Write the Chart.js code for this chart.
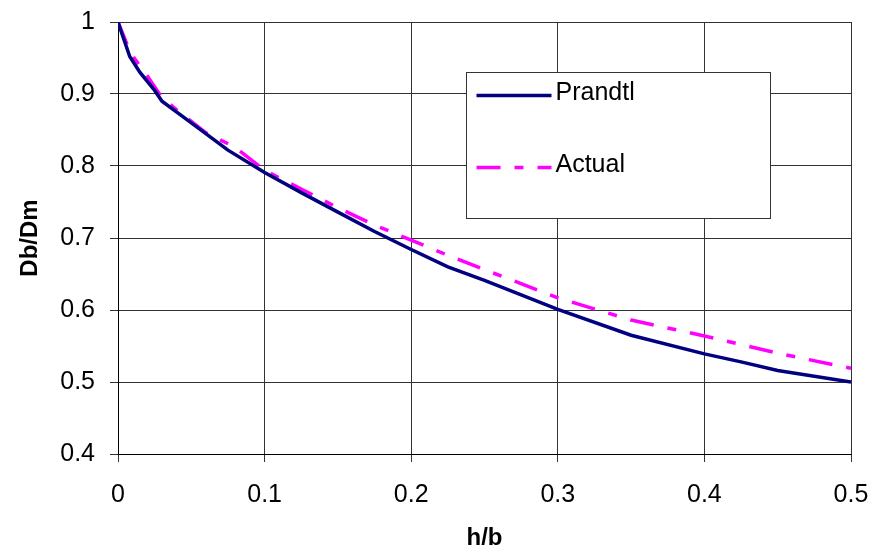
<!DOCTYPE html>
<html>
<head>
<meta charset="utf-8">
<title>Db/Dm vs h/b</title>
<script src="https://cdn.jsdelivr.net/npm/chart.js@4/dist/chart.umd.min.js"></script>
<style>
  body { margin: 0; background: #fff; }
  #wrap { width: 875px; height: 548px; }
</style>
</head>
<body>
<div id="wrap"><canvas id="chart" width="875" height="548"></canvas></div>
<script>
// h/b values and Db/Dm
const prandtlHb = [0, 0.008, 0.015, 0.025, 0.03, 0.05, 0.075, 0.1, 0.125, 0.15, 0.175, 0.2, 0.225, 0.25, 0.3, 0.35, 0.4, 0.425, 0.45, 0.5];
const prandtlDb = [1, 0.952, 0.93, 0.905, 0.89, 0.86, 0.822, 0.791, 0.763, 0.736, 0.709, 0.684, 0.66, 0.641, 0.601, 0.565, 0.539, 0.528, 0.516, 0.5];

const actualHb = [0, 0.006, 0.011, 0.02, 0.03, 0.04, 0.06, 0.08, 0.1, 0.125, 0.15, 0.175, 0.2, 0.225, 0.25, 0.3, 0.35, 0.4, 0.45, 0.5];
const actualDb = [1, 0.97, 0.95, 0.925, 0.895, 0.878, 0.846, 0.826, 0.794, 0.768, 0.742, 0.718, 0.697, 0.676, 0.656, 0.617, 0.586, 0.564, 0.54, 0.519];

const xTicks = [0, 0.1, 0.2, 0.3, 0.4, 0.5];
const yTicks = [0.4, 0.5, 0.6, 0.7, 0.8, 0.9, 1];

const FONT = "'Liberation Sans', Arial, sans-serif";

function toPoints(xs, ys) {
  return xs.map((x, i) => ({ x: x, y: ys[i] }));
}

function fmt(v) {
  return String(+v.toFixed(1));
}

// legend box drawn inside the plot, like the original
const boxLegend = {
  id: "boxLegend",
  afterDraw(chart) {
    const ctx = chart.ctx;
    const a = chart.chartArea;
    const w = a.right - a.left;
    const h = a.bottom - a.top;
    const left = Math.round(a.left + w * 0.475) + 0.5;
    const right = Math.round(a.left + w * 0.889) + 0.5;
    const top = Math.round(a.top + h * 0.116) + 0.5;
    const bottom = Math.round(a.top + h * 0.454) + 0.5;

    ctx.save();
    ctx.fillStyle = "#fff";
    ctx.fillRect(left, top, right - left, bottom - top);
    ctx.strokeStyle = "#333";
    ctx.lineWidth = 1;
    ctx.strokeRect(left, top, right - left, bottom - top);

    const rowY = [top + 23, top + 95];
    chart.data.datasets.forEach((ds, i) => {
      const y = rowY[i];
      ctx.beginPath();
      ctx.strokeStyle = ds.borderColor;
      ctx.lineWidth = ds.borderWidth;
      ctx.setLineDash(ds.borderDash || []);
      ctx.moveTo(left + 10, y);
      ctx.lineTo(left + 85, y);
      ctx.stroke();
      ctx.setLineDash([]);
      ctx.fillStyle = "#000";
      ctx.font = "25px " + FONT;
      ctx.textBaseline = "middle";
      ctx.textAlign = "left";
      ctx.fillText(ds.label, left + 89, y - 2);
    });
    ctx.restore();
  }
};

new Chart(document.getElementById("chart"), {
  type: "line",
  data: {
    datasets: [
      {
        label: "Prandtl",
        data: toPoints(prandtlHb, prandtlDb),
        borderColor: "#000080",
        borderWidth: 3.5,
        pointRadius: 0,
        tension: 0,
        fill: false
      },
      {
        label: "Actual",
        data: toPoints(actualHb, actualDb),
        borderColor: "#FF00FF",
        borderWidth: 3.5,
        borderDash: [24, 14, 9, 14],
        pointRadius: 0,
        tension: 0,
        fill: false
      }
    ]
  },
  options: {
    responsive: false,
    animation: false,
    layout: { padding: { top: 22, right: 24, left: 0, bottom: 0 } },
    plugins: {
      legend: { display: false },
      tooltip: { enabled: false }
    },
    scales: {
      x: {
        type: "linear",
        min: 0,
        max: 0.5,
        afterFit: (s) => { s.height = 94; s.paddingLeft = 0; s.paddingRight = 0; },
        afterBuildTicks: (s) => { s.ticks = xTicks.map((v) => ({ value: v })); },
        ticks: {
          color: "#000",
          font: { family: FONT, size: 25 },
          padding: 18,
          maxRotation: 0,
          autoSkip: false,
          callback: (v) => fmt(v)
        },
        grid: { color: "#333", lineWidth: 1, tickLength: 8, tickColor: "#333" },
        border: { color: "#000", width: 1 },
        title: {
          display: true,
          text: "h/b",
          color: "#000",
          font: { family: FONT, size: 24, weight: "bold" },
          padding: { top: 0, bottom: -5 }
        }
      },
      y: {
        min: 0.4,
        max: 1,
        afterFit: (s) => { s.width = 118; s.paddingTop = 0; s.paddingBottom = 0; },
        afterBuildTicks: (s) => { s.ticks = yTicks.map((v) => ({ value: v })); },
        ticks: {
          color: "#000",
          font: { family: FONT, size: 25 },
          padding: 15,
          autoSkip: false,
          callback: (v) => fmt(v)
        },
        grid: { color: "#333", lineWidth: 1, tickLength: 8, tickColor: "#333" },
        border: { color: "#000", width: 1 },
        title: {
          display: true,
          text: "Db/Dm",
          color: "#000",
          font: { family: FONT, size: 24, weight: "bold" },
          padding: { top: 16, bottom: 0 }
        }
      }
    }
  },
  plugins: [boxLegend]
});
</script>
</body>
</html>
